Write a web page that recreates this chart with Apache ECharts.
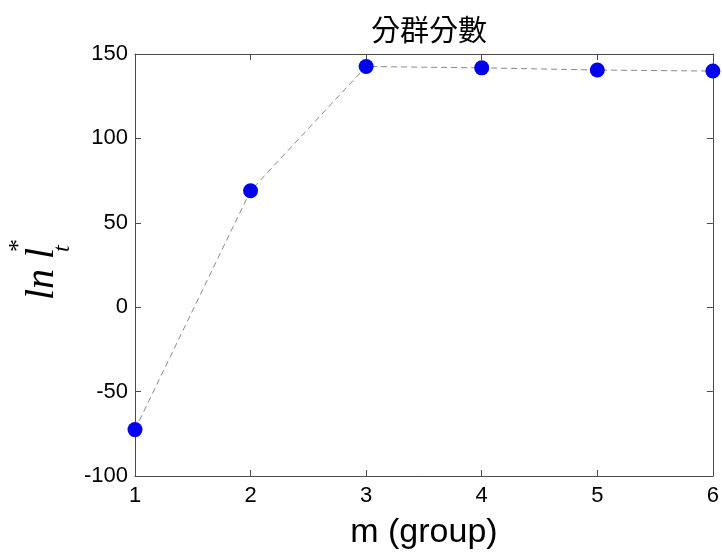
<!DOCTYPE html>
<html>
<head>
<meta charset="utf-8">
<script src="https://cdn.jsdelivr.net/npm/echarts@6/dist/echarts.min.js"></script>
<style>
  html, body { margin: 0; padding: 0; background: #fff; }
  #chart { width: 722px; height: 555px; }
</style>
</head>
<body>
<div id="chart"></div>
<script>
// Number of groups m and the corresponding ln l*_t score
const groups = [1, 2, 3, 4, 5, 6];
const scores = [-72.5, 69, 142.6, 141.8, 140.5, 139.9];
const yTicks = [-100, -50, 0, 50, 100, 150];

const titleText = '分群分數';
const xName = 'm (group)';

const chart = echarts.init(document.getElementById('chart'));

const axisColor = '#4a4a4a';
const labelFont = 'Liberation Sans, Arial, sans-serif';

const frameLine = { show: true, onZero: false, lineStyle: { color: axisColor, width: 1 } };
const inTick = { show: true, inside: true, length: 6, lineStyle: { color: axisColor, width: 1 } };

chart.setOption({
  animation: false,
  backgroundColor: '#ffffff',
  title: {
    text: titleText,
    left: 424,
    top: 10,
    textAlign: 'center',
    textStyle: { fontFamily: 'Noto Sans CJK TC', fontWeight: 'normal', fontSize: 29, color: '#000' }
  },
  grid: { left: 135, right: 9, top: 54, bottom: 74, containLabel: false },
  xAxis: [
    {
      type: 'value', min: groups[0], max: groups[groups.length - 1], interval: 1, position: 'bottom',
      name: xName, nameLocation: 'middle', nameGap: 40,
      nameTextStyle: { fontFamily: labelFont, fontSize: 34, color: '#000' },
      axisLine: frameLine,
      axisTick: inTick,
      axisLabel: { fontFamily: labelFont, fontSize: 22, color: '#000', margin: 9 },
      splitLine: { show: false }
    },
    {
      type: 'value', min: groups[0], max: groups[groups.length - 1], interval: 1, position: 'top',
      axisLine: frameLine,
      axisTick: inTick,
      axisLabel: { show: false },
      splitLine: { show: false }
    }
  ],
  yAxis: [
    {
      type: 'value', min: yTicks[0], max: yTicks[yTicks.length - 1], interval: 50, position: 'left',
      axisLine: frameLine,
      axisTick: inTick,
      axisLabel: { fontFamily: labelFont, fontSize: 22, color: '#000', margin: 7 },
      splitLine: { show: false }
    },
    {
      type: 'value', min: yTicks[0], max: yTicks[yTicks.length - 1], interval: 50, position: 'right',
      axisLine: frameLine,
      axisTick: inTick,
      axisLabel: { show: false },
      splitLine: { show: false }
    }
  ],
  // Rotated y-axis title: ln l with superscript * and subscript t
  graphic: [
    {
      type: 'text', x: 42, y: 300, rotation: Math.PI / 2,
      style: { text: 'ln l', font: 'italic 40px "Liberation Serif", "Times New Roman", serif',
               fill: '#000', textAlign: 'left', textVerticalAlign: 'middle' }
    },
    {
      type: 'text', x: 19, y: 252, rotation: Math.PI / 2,
      style: { text: '*', font: '26px "Liberation Serif", "Times New Roman", serif',
               fill: '#000', textAlign: 'left', textVerticalAlign: 'middle' }
    },
    {
      type: 'text', x: 63, y: 252, rotation: Math.PI / 2,
      style: { text: 't', font: 'italic 24px "Liberation Serif", "Times New Roman", serif',
               fill: '#000', textAlign: 'left', textVerticalAlign: 'middle' }
    }
  ],
  series: [
    {
      type: 'line',
      xAxisIndex: 0, yAxisIndex: 0,
      data: groups.map((g, i) => [g, scores[i]]),
      clip: false,
      symbol: 'circle',
      symbolSize: 15,
      lineStyle: { color: '#8a8a8a', width: 1, type: [6, 4] },
      itemStyle: { color: '#0000f0', borderWidth: 0 },
      z: 3
    }
  ]
});
</script>
</body>
</html>
